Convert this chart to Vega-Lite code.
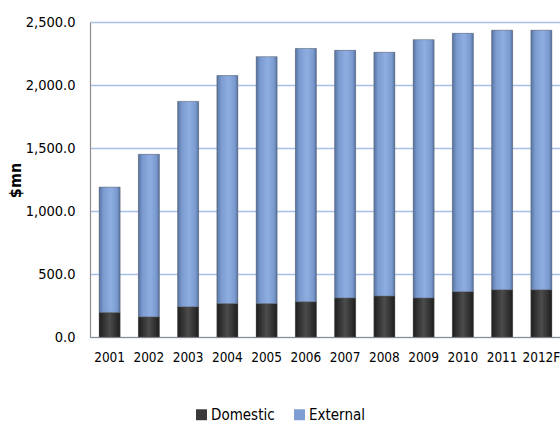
{
  "$schema": "https://vega.github.io/schema/vega-lite/v6.json",
  "width": 471,
  "height": 315,
  "autosize": {"type": "none"},
  "padding": {"left": 90, "top": 22, "right": 0, "bottom": 92},
  "background": "white",
  "config": {
    "font": "'DejaVu Sans Condensed', 'Liberation Sans Narrow', sans-serif",
    "view": {"stroke": null},
    "axis": {"labelFont": "'DejaVu Sans Condensed', 'Liberation Sans Narrow', sans-serif", "titleFont": "'DejaVu Sans Condensed', 'Liberation Sans Narrow', sans-serif"},
    "legend": {"labelFont": "'DejaVu Sans Condensed', 'Liberation Sans Narrow', sans-serif"}
  },
  "data": {
    "values": [
      {"year": "2001", "source": "Domestic", "value": 195},
      {"year": "2001", "source": "External", "value": 995},
      {"year": "2002", "source": "Domestic", "value": 160},
      {"year": "2002", "source": "External", "value": 1290},
      {"year": "2003", "source": "Domestic", "value": 240},
      {"year": "2003", "source": "External", "value": 1630},
      {"year": "2004", "source": "Domestic", "value": 265},
      {"year": "2004", "source": "External", "value": 1810},
      {"year": "2005", "source": "Domestic", "value": 265},
      {"year": "2005", "source": "External", "value": 1960},
      {"year": "2006", "source": "Domestic", "value": 280},
      {"year": "2006", "source": "External", "value": 2010},
      {"year": "2007", "source": "Domestic", "value": 310},
      {"year": "2007", "source": "External", "value": 1965},
      {"year": "2008", "source": "Domestic", "value": 325},
      {"year": "2008", "source": "External", "value": 1935},
      {"year": "2009", "source": "Domestic", "value": 310},
      {"year": "2009", "source": "External", "value": 2050},
      {"year": "2010", "source": "Domestic", "value": 360},
      {"year": "2010", "source": "External", "value": 2050},
      {"year": "2011", "source": "Domestic", "value": 375},
      {"year": "2011", "source": "External", "value": 2060},
      {"year": "2012F", "source": "Domestic", "value": 375},
      {"year": "2012F", "source": "External", "value": 2060}
    ]
  },
  "transform": [
    {"stack": "value", "groupby": ["year"], "sort": [{"field": "source", "order": "ascending"}], "as": ["v0", "v1"]}
  ],
  "encoding": {
    "x": {
      "field": "year",
      "type": "nominal",
      "sort": null,
      "scale": {"paddingInner": 0.47, "paddingOuter": 0.235},
      "axis": {
        "title": null,
        "labelAngle": 0,
        "labelFontSize": 13.5,
        "labelColor": "#000000",
        "labelPadding": 13,
        "ticks": false,
        "domainColor": "#8c8c8c",
        "domainWidth": 1.2
      }
    },
    "y": {
      "field": "v0",
      "type": "quantitative",
      "scale": {"domain": [0, 2500], "nice": false},
      "axis": {
        "title": "$mn",
        "titleFontSize": 16,
        "titleFontWeight": "bold",
        "titleColor": "#000000",
        "titleX": -67,
        "titleY": 158,
        "values": [0, 500, 1000, 1500, 2000, 2500],
        "format": ",.1f",
        "labelFontSize": 14.5,
        "labelColor": "#000000",
        "labelPadding": 15,
        "ticks": false,
        "domainColor": "#8c8c8c",
        "domainWidth": 1.2,
        "gridColor": "#a9c0e8",
        "gridWidth": 1.3
      }
    },
    "y2": {"field": "v1"}
  },
  "layer": [
    {
      "mark": {"type": "bar", "width": 21},
      "encoding": {
        "color": {
          "field": "source",
          "type": "nominal",
          "scale": {"domain": ["Domestic", "External"], "range": ["#3a3a3a", "#7f9fd4"]},
          "legend": {
            "title": null,
            "orient": "none",
            "direction": "horizontal",
            "legendX": 104,
            "legendY": 385,
            "symbolType": "square",
            "symbolSize": 120,
            "symbolStrokeWidth": 0,
            "labelFontSize": 15,
            "labelColor": "#000000",
            "labelOffset": 2,
            "columnPadding": 17,
            "encode": {
              "symbols": {
                "update": {
                  "fill": [
                    {"test": "datum.value === 'Domestic'", "value": {"gradient": "linear", "x1": 0, "y1": 0, "x2": 1, "y2": 0, "stops": [{"offset": 0, "color": "#1e1e1e"}, {"offset": 0.5, "color": "#555555"}, {"offset": 1, "color": "#1e1e1e"}]}},
                    {"value": {"gradient": "linear", "x1": 0, "y1": 0, "x2": 1, "y2": 0, "stops": [{"offset": 0, "color": "#56739f"}, {"offset": 0.5, "color": "#9ab8ea"}, {"offset": 1, "color": "#56739f"}]}}
                  ]
                }
              }
            }
          }
        }
      }
    },
    {
      "transform": [{"filter": "datum.source === 'Domestic'"}],
      "mark": {
        "type": "bar",
        "width": 21,
        "stroke": "#5a5a5a",
        "strokeWidth": 0.6,
        "strokeOpacity": 0.7,
        "fill": {"gradient": "linear", "x1": 0, "y1": 0, "x2": 1, "y2": 0,
          "stops": [
            {"offset": 0, "color": "#1e1e1e"},
            {"offset": 0.5, "color": "#4c4c4c"},
            {"offset": 1, "color": "#1e1e1e"}
          ]}
      }
    },
    {
      "transform": [{"filter": "datum.source === 'External'"}],
      "mark": {
        "type": "bar",
        "width": 21,
        "stroke": "#5a5a5a",
        "strokeWidth": 0.6,
        "strokeOpacity": 0.7,
        "fill": {"gradient": "linear", "x1": 0, "y1": 0, "x2": 1, "y2": 0,
          "stops": [
            {"offset": 0, "color": "#56739f"},
            {"offset": 0.2, "color": "#7b9bd0"},
            {"offset": 0.55, "color": "#8eaee2"},
            {"offset": 0.85, "color": "#7b9bd0"},
            {"offset": 1, "color": "#56739f"}
          ]}
      }
    }
  ]
}
